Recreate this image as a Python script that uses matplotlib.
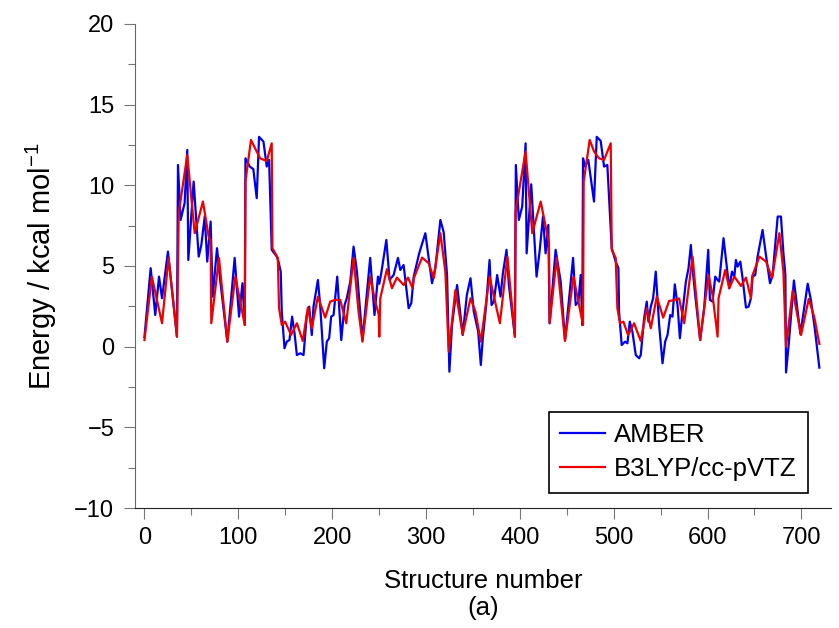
"""
Conformer energy profile: AMBER vs B3LYP/cc-pVTZ along structure number.
Writes out.png.
"""

import matplotlib
matplotlib.use('Agg')
import matplotlib.pyplot as plt
from matplotlib.ticker import MultipleLocator

# values (structure number, energy in kcal/mol)
amber_x = [
    0, 6.6, 11.5, 15.5, 18.7, 25.0, 34.6, 35.7, 38.5, 42.8, 45.6, 46.7, 52.4, 57.8,
    60.6, 64.2, 66.9, 70.5, 72.7, 77.3, 80.9, 88.3, 96.1, 100.8, 104.4, 106.9, 107.6,
    112.2, 116.0, 119.6, 122.1, 126.8, 130.3, 132.8, 135.6, 141.0, 142.8, 145.2, 146.3,
    149.2, 151.6, 154.5, 157.3, 159.9, 162.4, 165.9, 169.5, 173.0, 175.5, 178.3, 180.1,
    184.8, 187.2, 191.5, 194.3, 196.8, 198.9, 201.5, 205.4, 209.7, 213.2, 215.6, 219.3,
    222.8, 226.4, 229.9, 232.3, 240.5, 245.1, 248.8, 250.2, 252.3, 257.7, 261.2, 265.5,
    270.1, 272.6, 276.1, 281.5, 284.3, 286.9, 292.8, 299.3, 306.4, 309.9, 315.3, 318.8,
    322.4, 324.9, 327.7, 333.1, 335.5, 339.1, 343.5, 347.4, 350.9, 355.6, 358.4, 360.5,
    364.1, 367.7, 369.8, 372.3, 375.8, 379.4, 381.9, 385.8, 388.3, 394.7, 395.7, 398.9,
    402.5, 406.1, 407.2, 412.1, 417.8, 421.0, 424.6, 427.4, 430.3, 431.7, 438.1, 443.5,
    448.1, 456.7, 459.5, 462.4, 464.8, 466.5, 467.3, 469.4, 472.9, 479.0, 481.9, 486.1,
    489.7, 493.2, 497.9, 502.1, 505.0, 505.7, 508.5, 512.1, 514.6, 517.1, 519.9, 523.5,
    527.0, 528.8, 532.4, 535.2, 537.0, 539.5, 542.0, 544.8, 548.4, 552.0, 554.8, 557.3,
    560.2, 562.6, 565.1, 568.0, 570.5, 572.6, 576.9, 579.7, 582.2, 584.0, 586.8, 592.1,
    596.5, 600.7, 602.5, 605.3, 608.2, 610.7, 612.4, 617.0, 620.3, 623.1, 626.0, 628.5,
    630.2, 632.0, 634.9, 637.3, 640.9, 643.7, 646.2, 648.0, 650.8, 653.3, 658.6, 662.2,
    666.5, 669.3, 674.7, 678.2, 680.7, 682.9, 683.6, 686.4, 692.0, 698.9, 706.7, 710.2,
    714.5, 719.1,
]
amber_y = [
    0.6, 4.86, 1.96, 4.34, 3.0, 5.89, 0.62, 11.26, 7.85, 8.9, 12.19, 5.37, 10.23, 5.58,
    6.3, 8.06, 5.27, 7.75, 3.1, 6.1, 4.0, 0.31, 5.5, 1.86, 3.93, 1.34, 11.67,
    11.16, 11.0, 9.2, 13.0, 12.7, 11.16, 11.57, 6.0, 5.58, 5.27, 4.65, 2.17,
    -0.1, 0.31, 0.41, 1.86, 0.83, -0.52, -0.41, -0.52, 1.96, 2.48, 0.72, 2.48,
    4.13, 2.58, -1.34, 0.31, 0.52, 1.86, 1.96, 4.34, 0.41, 2.58, 3.0, 4.03,
    6.2, 4.65, 2.17, 0.41, 5.5, 1.96, 4.34, 3.9, 4.55, 6.61, 4.13, 4.44,
    5.5, 4.75, 5.06, 2.38, 2.69, 4.34, 5.8, 7.03, 3.93, 4.86, 7.85, 7.1,
    4.44, -1.55, 1.34, 3.82, 2.58, 0.72, 3.2, 4.24, 2.17, 0.93, -1.14, 0.52,
    2.58, 5.37, 2.58, 2.79, 4.44, 3.1, 4.55, 6.0, 3.82, 0.62, 11.26, 7.85,
    8.68, 12.6, 5.78, 10.06, 4.34, 5.89, 8.06, 5.78, 7.54, 1.45, 6.0, 4.03,
    0.41, 5.5, 2.58, 2.79, 4.44, 1.34, 11.67, 11.16, 11.57, 8.99, 13.0, 12.75,
    11.16, 11.26, 6.1, 5.27, 4.86, 2.17, 0.1, 0.31, 0.21, 1.55, 0.93, -0.52,
    -0.72, -0.52, 1.76, 2.79, 1.55, 2.48, 3.0, 4.65, 1.34, -1.03, 0.31, 0.72,
    1.96, 1.86, 3.86, 2.58, 0.52, 1.76, 4.03, 4.86, 6.3, 4.86, 3.2, 0.41,
    2.48, 6.0, 2.9, 2.79, 4.34, 4.13, 4.03, 6.72, 5.06, 3.62, 4.65, 4.34,
    5.37, 4.96, 5.27, 4.24, 2.42, 2.48, 3.0, 4.34, 4.44, 5.58, 7.23, 5.68,
    3.93, 4.44, 8.06, 8.06, 5.89, 4.44, -1.6, 0.1, 4.1, 0.79, 3.9, 2.86,
    1.0, -1.3,
]

b3lyp_x = [
    0, 7.9, 18.7, 25.7, 34.6, 36.5, 45.6, 53.5, 62.3, 68.4, 70.5, 71.2, 79.4, 88.3,
    96.8, 106.9, 107.6, 113.5, 117.8, 123.2, 130.3, 135.6, 136.3, 142.1, 143.4, 146.3,
    149.9, 156.2, 162.4, 168.7, 174.1, 178.3, 184.8, 192.6, 197.9, 203.2, 208.5, 215.0,
    222.8, 228.1, 232.3, 240.5, 245.9, 249.6, 250.2, 251.3, 258.3, 263.7, 269.0, 276.1,
    280.8, 285.8, 287.0, 295.8, 302.8, 308.2, 315.3, 320.6, 324.2, 331.3, 339.1, 347.4,
    352.7, 358.4, 367.7, 378.7, 386.7, 394.7, 395.4, 406.1, 413.2, 422.2, 429.6, 431.0,
    431.7, 439.2, 448.1, 457.1, 467.3, 468.0, 474.4, 479.0, 484.3, 489.7, 496.8, 497.9,
    502.1, 503.9, 506.7, 510.3, 515.3, 521.7, 528.8, 535.2, 539.5, 545.9, 552.7, 559.0,
    566.2, 569.7, 575.1, 584.0, 592.1, 601.0, 605.3, 610.7, 611.7, 618.8, 623.1, 628.5,
    635.6, 640.9, 646.2, 647.4, 655.2, 662.3, 668.7, 676.5, 680.8, 683.6, 690.7, 699.6,
    707.8, 713.8, 719.1,
]
b3lyp_y = [
    0.41, 4.34, 1.45, 5.5, 0.62, 8.27, 11.88, 7.03, 8.99, 6.82, 6.5, 1.45, 5.5, 0.31,
    4.34, 1.34, 10.23, 12.81, 12.3, 11.67, 11.5, 12.6, 6.1, 5.5, 2.38, 1.34,
    1.55, 0.72, 1.45, 0.35, 2.42, 1.14, 3.1, 1.8, 2.79, 2.9, 2.9, 1.45,
    5.5, 2.17, 0.31, 4.34, 2.79, 2.0, 0.62, 3.0, 4.8, 3.62, 4.28, 3.82,
    4.28, 3.62, 4.24, 5.52, 5.17, 4.24, 7.03, 4.65, -0.31, 3.51, 0.76, 3.0,
    2.17, 0.31, 4.34, 1.45, 5.58, 0.62, 8.37, 12.1, 7.03, 8.99, 6.82, 6.5,
    1.45, 5.5, 0.35, 4.34, 1.34, 10.23, 12.81, 12.1, 11.67, 11.57, 12.6, 6.0,
    5.5, 2.38, 1.45, 1.55, 0.72, 1.45, 0.35, 2.38, 1.14, 3.1, 1.8, 2.83,
    2.9, 2.99, 1.45, 5.58, 0.41, 4.44, 3.2, 0.62, 3.0, 4.75, 3.62, 4.34,
    3.76, 4.28, 3.0, 4.34, 5.58, 5.27, 4.24, 7.03, 4.65, 0.0, 3.48, 0.72,
    2.96, 1.8, 0.17,
]

x_ticks = [0, 100, 200, 300, 400, 500, 600, 700]
y_ticks = [-10, -5, 0, 5, 10, 15, 20]

plt.rcParams['font.family'] = ['Liberation Sans', 'DejaVu Sans']
plt.rcParams['mathtext.default'] = 'regular'

fig = plt.figure(figsize=(8.39, 6.28), dpi=100)
ax = fig.add_axes([0.161, 0.191, 0.830, 0.771])

ax.plot(amber_x, amber_y, color='#0000ee', linewidth=1.6, label='AMBER')
ax.plot(b3lyp_x, b3lyp_y, color='#ee0000', linewidth=1.6, label='B3LYP/cc-pVTZ')

ax.set_xlim(-10, 732)
ax.set_ylim(-10, 20)
ax.set_xticks(x_ticks)
ax.set_yticks(y_ticks)
ax.xaxis.set_minor_locator(MultipleLocator(50))
ax.yaxis.set_minor_locator(MultipleLocator(2.5))

for side in ('top', 'right'):
    ax.spines[side].set_visible(False)
ax.spines['left'].set_color('#666666')
ax.spines['bottom'].set_color('#222222')
ax.tick_params(which='major', direction='out', length=8, width=0.8, color='#777777',
               labelsize=17)
ax.tick_params(which='minor', direction='out', length=5, width=0.8, color='#777777')
ax.tick_params(axis='y', which='major', pad=7)
ax.tick_params(axis='x', which='major', pad=6)

ax.set_xlabel('Structure number\n(a)', fontsize=18.5, linespacing=1.15, labelpad=14)
ax.set_ylabel('Energy / kcal mol$^{-1}$', fontsize=21, labelpad=11)

leg = ax.legend(loc='lower right', bbox_to_anchor=(0.967, 0.031), borderaxespad=0,
                fontsize=18.5, fancybox=False, framealpha=1, handlelength=1.75,
                handletextpad=0.35, borderpad=0.45, labelspacing=0.4)
leg.get_frame().set_edgecolor('black')
leg.get_frame().set_linewidth(1.2)

fig.savefig('out.png', dpi=100)
plt.close(fig)
